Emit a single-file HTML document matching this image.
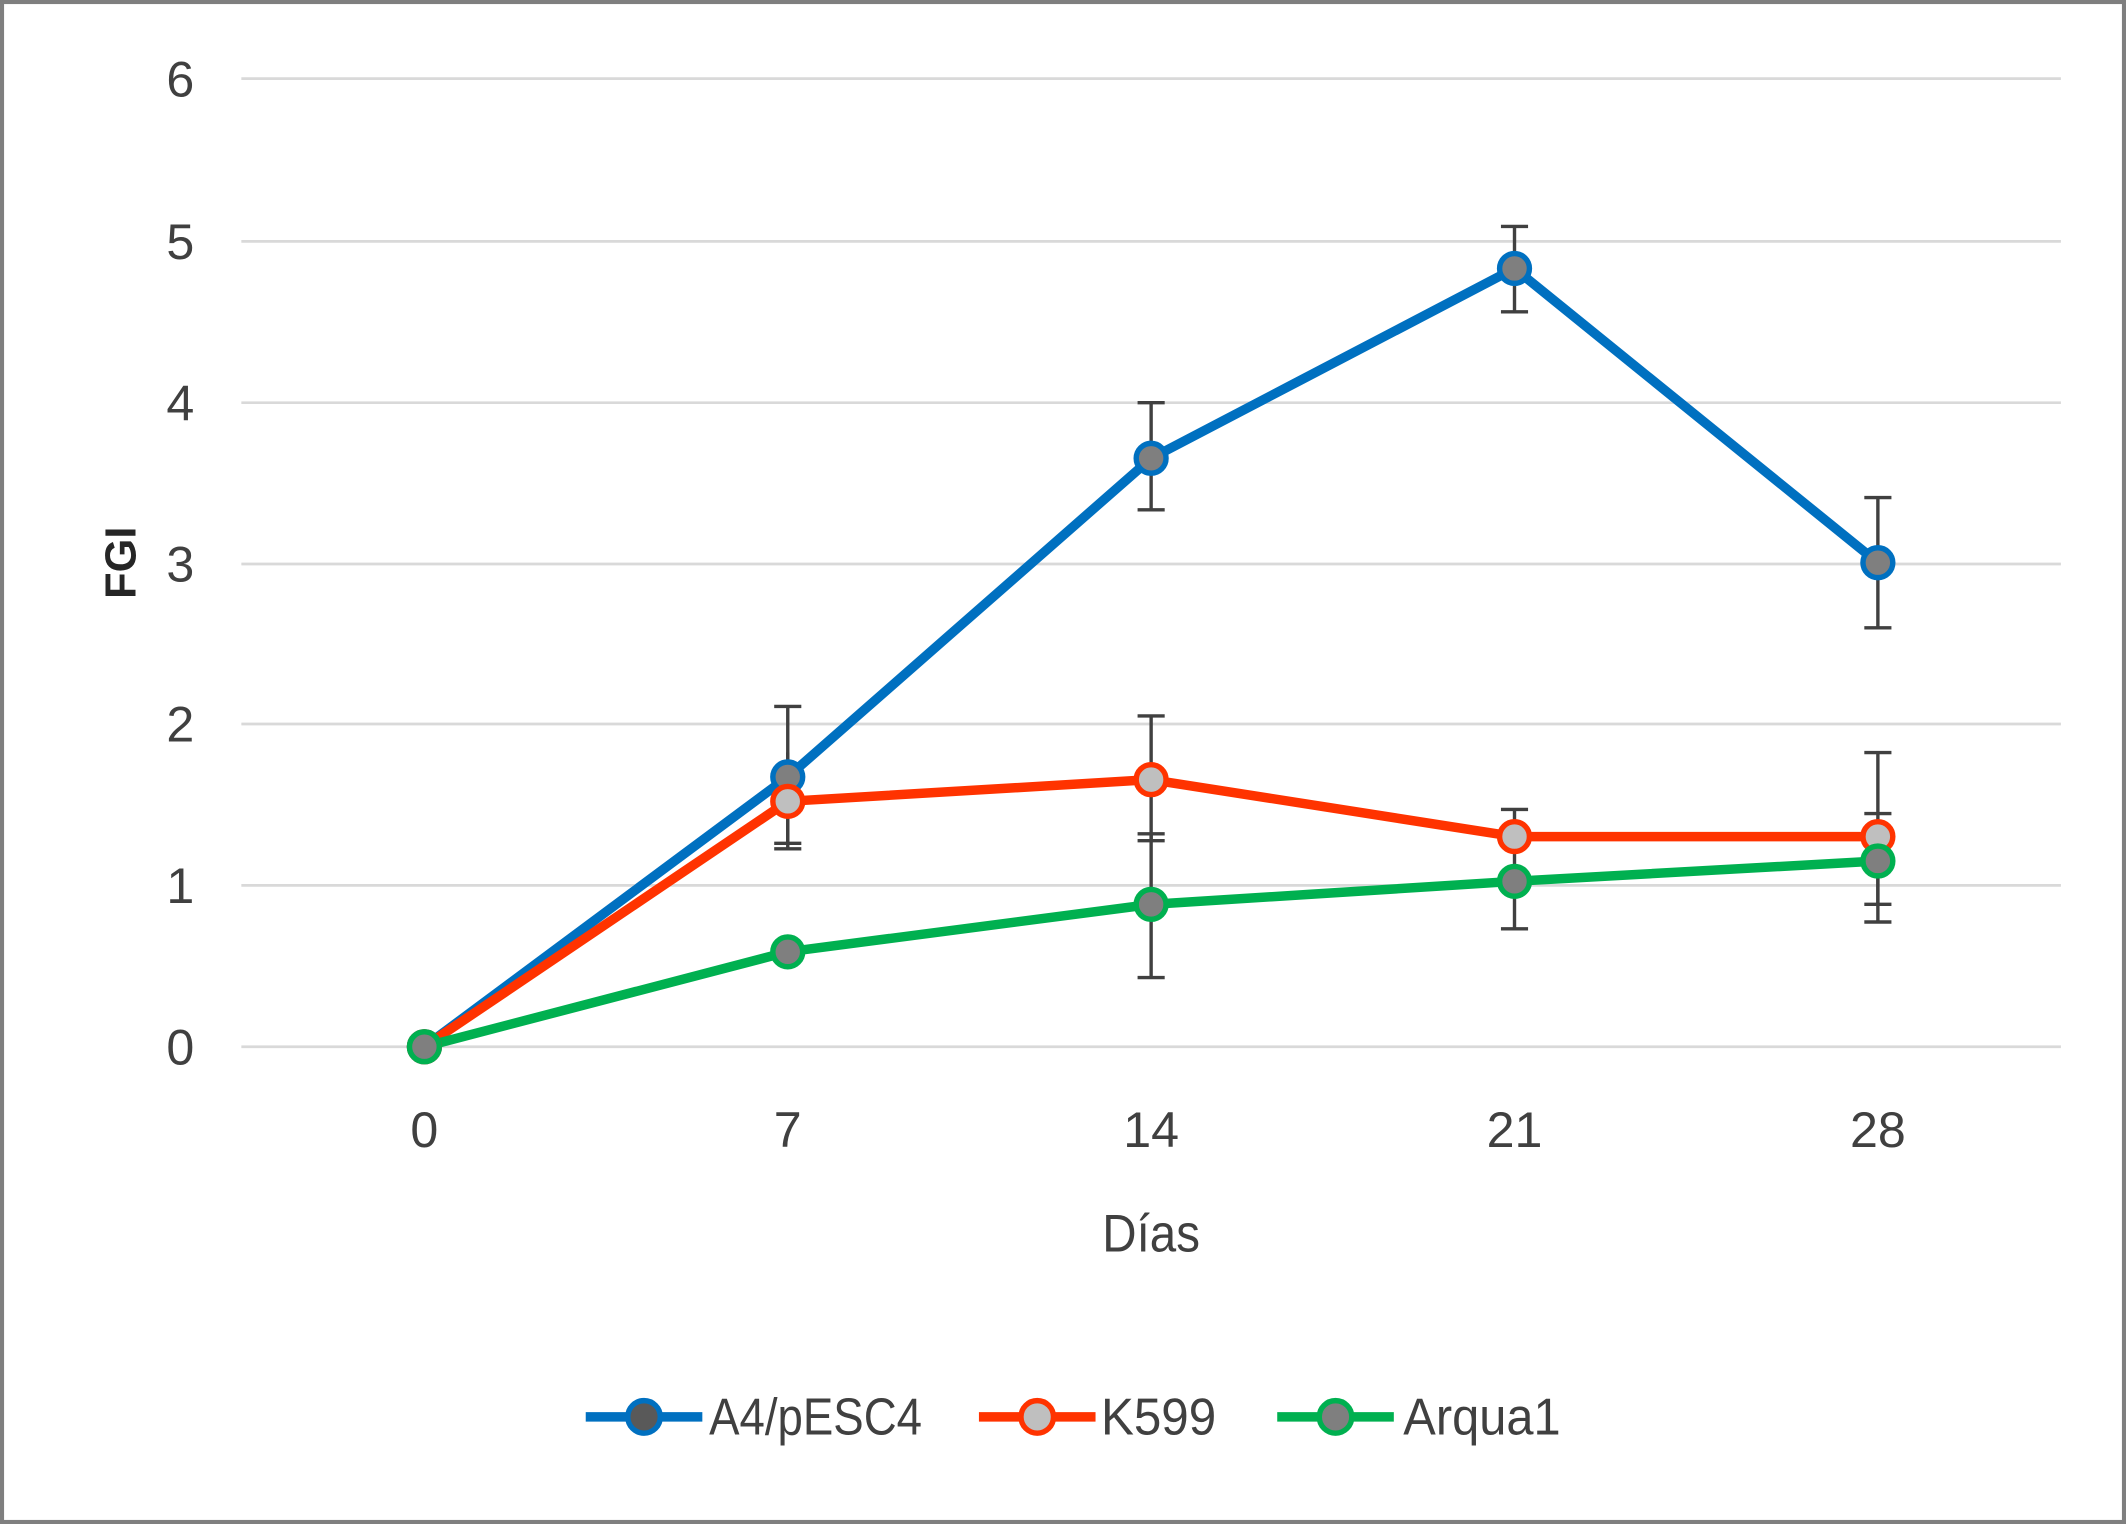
<!DOCTYPE html>
<html><head><meta charset="utf-8"><style>html,body{margin:0;padding:0;background:#fff}svg{display:block}</style></head>
<body>
<svg width="2126" height="1524" viewBox="0 0 1568 1124" preserveAspectRatio="none" xmlns="http://www.w3.org/2000/svg">
<rect x="1.5" y="1.5" width="1565" height="1121" fill="#fff" stroke="#7f7f7f" stroke-width="3"/>
<g stroke="#d9d9d9" stroke-width="2">
<line x1="178" x2="1520" y1="58" y2="58"/><line x1="178" x2="1520" y1="178" y2="178"/>
<line x1="178" x2="1520" y1="297" y2="297"/><line x1="178" x2="1520" y1="416" y2="416"/>
<line x1="178" x2="1520" y1="534" y2="534"/><line x1="178" x2="1520" y1="653" y2="653"/>
<line x1="178" x2="1520" y1="772" y2="772"/>
</g>
<g font-family="Liberation Sans, sans-serif" font-size="37" fill="#404040" text-anchor="middle">
<text x="133" y="71">6</text><text x="133" y="191">5</text><text x="133" y="310">4</text>
<text x="133" y="429">3</text><text x="133" y="547">2</text><text x="133" y="666">1</text><text x="133" y="785">0</text>
<text x="313" y="846">0</text><text x="581" y="846">7</text><text x="849" y="846">14</text><text x="1117" y="846">21</text><text x="1385" y="846">28</text>
<text x="849" y="923" font-size="39" textLength="72" lengthAdjust="spacingAndGlyphs">Días</text>
<text transform="translate(100,415) rotate(-90)" font-size="32" font-weight="bold" fill="#262626">FGI</text>
</g>
<g stroke="#404040" stroke-width="2.5">
<path d="M581 521V626M571 521H591M571 626H591"/>
<path d="M849 297V376M839 297H859M839 376H859"/>
<path d="M1117 167V230M1107 167H1127M1107 230H1127"/>
<path d="M1385 367V463M1375 367H1395M1375 463H1395"/>
<path d="M581 555V622M571 622H591"/>
<path d="M849 528V620M839 528H859M839 620H859"/>
<path d="M1117 597V640M1107 597H1127"/>
<path d="M1385 555V667M1375 555H1395M1375 667H1395M1375 600H1395"/>
<path d="M849 615V721M839 615H859M839 721H859"/>
<path d="M1117 650V685M1107 685H1127"/>
<path d="M1385 640V680M1375 680H1395"/>
</g>
<g fill="none" stroke-width="7" stroke-linejoin="round">
<polyline stroke="#0070c0" points="313,772 581,573 849,338 1117,198 1385,415"/>
<polyline stroke="#ff3300" points="313,772 581,591 849,575 1117,617 1385,617"/>
<polyline stroke="#00b050" points="313,772 581,702 849,667 1117,650 1385,635"/>
</g>
<g stroke-width="4">
<g fill="#7f7f7f" stroke="#0070c0"><circle cx="313" cy="772" r="11"/><circle cx="581" cy="573" r="11"/><circle cx="849" cy="338" r="11"/><circle cx="1117" cy="198" r="11"/><circle cx="1385" cy="415" r="11"/></g>
<g fill="#bfbfbf" stroke="#ff3300"><circle cx="313" cy="772" r="11"/><circle cx="581" cy="591" r="11"/><circle cx="849" cy="575" r="11"/><circle cx="1117" cy="617" r="11"/><circle cx="1385" cy="617" r="11"/></g>
<g fill="#7f7f7f" stroke="#00b050"><circle cx="313" cy="772" r="11"/><circle cx="581" cy="702" r="11"/><circle cx="849" cy="667" r="11"/><circle cx="1117" cy="650" r="11"/><circle cx="1385" cy="635" r="11"/></g>
</g>
<g stroke-width="7">
<line x1="432" x2="518" y1="1045" y2="1045" stroke="#0070c0"/>
<line x1="722" x2="808" y1="1045" y2="1045" stroke="#ff3300"/>
<line x1="942" x2="1028" y1="1045" y2="1045" stroke="#00b050"/>
</g>
<g stroke-width="4">
<circle cx="475" cy="1045" r="12" fill="#595959" stroke="#0070c0"/>
<circle cx="765" cy="1045" r="12" fill="#bfbfbf" stroke="#ff3300"/>
<circle cx="985" cy="1045" r="12" fill="#7f7f7f" stroke="#00b050"/>
</g>
<g font-family="Liberation Sans, sans-serif" font-size="38" fill="#404040" lengthAdjust="spacingAndGlyphs">
<text x="523" y="1058" textLength="157" lengthAdjust="spacingAndGlyphs">A4/pESC4</text><text x="812" y="1058" textLength="85" lengthAdjust="spacingAndGlyphs">K599</text><text x="1035" y="1058" textLength="116" lengthAdjust="spacingAndGlyphs">Arqua1</text>
</g>
</svg>
</body></html>
